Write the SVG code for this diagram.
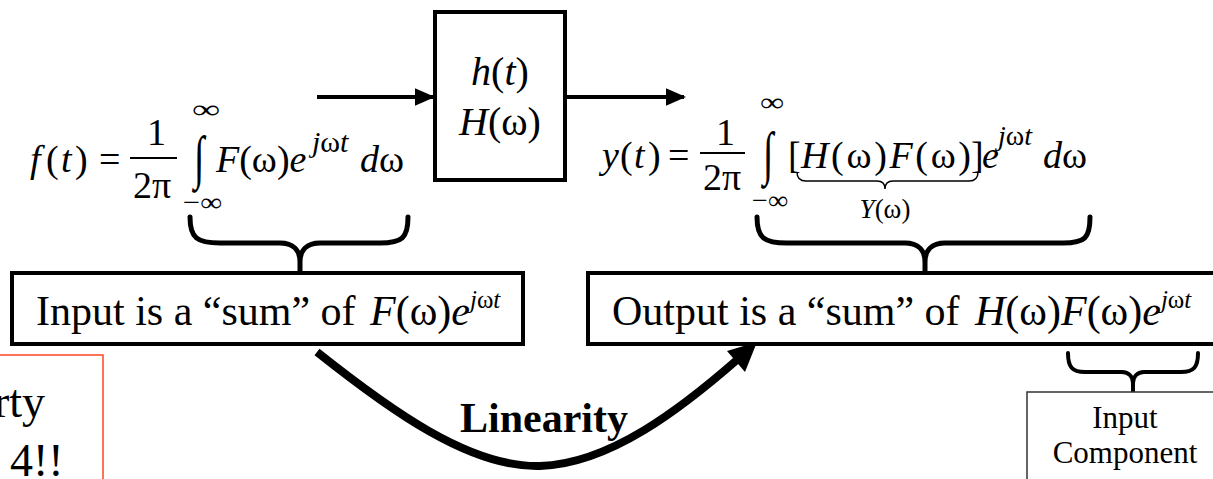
<svg xmlns="http://www.w3.org/2000/svg" width="1213" height="479" viewBox="0 0 1213 479" font-family="'Liberation Serif', 'Times New Roman', serif">
<style>
.t{font-family:"Liberation Serif","Times New Roman",serif;fill:#000}
.it{font-style:italic}
.up{font-style:normal}
.m38{font-size:38px}
.m42{font-size:42px}
.box{fill:#fff;stroke:#000;stroke-width:4}
.brace{fill:none;stroke:#000;stroke-width:5;stroke-linecap:round;stroke-linejoin:round}
.conn{fill:none;stroke:#000;stroke-width:4}
</style>
<defs>
<marker id="ah" viewBox="0 0 10 10" refX="9" refY="5" markerWidth="5" markerHeight="4.4" orient="auto" markerUnits="strokeWidth" preserveAspectRatio="none">
<path d="M0,0 L10,5 L0,10 z" fill="#000"/>
</marker>
</defs>
<rect width="1213" height="479" fill="#fff"/>

<g id="connectors">
<line class="conn" x1="317" y1="97" x2="433" y2="97" marker-end="url(#ah)"/>
<line class="conn" x1="565" y1="97" x2="684" y2="97" marker-end="url(#ah)"/>
<path d="M317,352 C390,410 470,468 540,466 C610,464 682,408 738,359" fill="none" stroke="#000" stroke-width="8"/>
<polygon points="757,342 727,351 745,372" fill="#000"/>
</g>

<g id="system">
<rect class="box" x="435" y="12" width="130" height="168"/>
<text class="t" x="500" y="85" text-anchor="middle" font-size="40"><tspan class="it">h</tspan>(<tspan class="it">t</tspan>)</text>
<text class="t" x="500" y="135" text-anchor="middle" font-size="40"><tspan class="it">H</tspan>(ω)</text>
</g>

<g id="input-formula">
<text class="t m38" y="172"><tspan class="it" x="30">f</tspan><tspan x="46">(</tspan><tspan class="it" x="61">t</tspan><tspan x="75">)</tspan><tspan x="99">=</tspan></text>
<text class="t m38" x="147" y="145">1</text>
<line x1="130" y1="158" x2="177" y2="158" stroke="#000" stroke-width="2"/>
<text class="t m38" x="133" y="198">2π</text>
<text class="t" font-size="38" transform="translate(194,177) scale(1,1.55)">∫</text>
<text class="t" x="192" y="118" font-size="26" textLength="28" lengthAdjust="spacingAndGlyphs">∞</text>
<text class="t" x="183" y="211" font-size="26" textLength="39" lengthAdjust="spacingAndGlyphs">−∞</text>
<text class="t m38" x="216" y="172"><tspan class="it">F</tspan>(ω)<tspan class="it">e</tspan></text>
<text class="t it" x="312" y="152" font-size="30">j<tspan class="up">ω</tspan>t</text>
<text class="t m38" x="360" y="172"><tspan class="it">d</tspan>ω</text>
</g>

<g id="output-formula">
<text class="t m38" y="168"><tspan class="it" x="602">y</tspan><tspan x="620">(</tspan><tspan class="it" x="634">t</tspan><tspan x="648">)</tspan><tspan x="668">=</tspan></text>
<text class="t m38" x="716" y="145">1</text>
<line x1="700" y1="153" x2="745" y2="153" stroke="#000" stroke-width="2"/>
<text class="t m38" x="703" y="190">2π</text>
<text class="t" font-size="38" transform="translate(763,173) scale(1,1.55)">∫</text>
<text class="t" x="760" y="111" font-size="26" textLength="24" lengthAdjust="spacingAndGlyphs">∞</text>
<text class="t" x="752" y="209" font-size="26" textLength="36" lengthAdjust="spacingAndGlyphs">−∞</text>
<text class="t m38" x="788" y="168">[</text>
<text class="t m38" x="801" y="168" textLength="170" lengthAdjust="spacing"><tspan class="it">H</tspan>(ω)<tspan class="it">F</tspan>(ω)</text>
<text class="t m38" x="971" y="168">]</text>
<text class="t m38 it" x="982" y="168">e</text>
<text class="t it" x="998" y="145" font-size="28">j<tspan class="up">ω</tspan>t</text>
<text class="t m38" x="1043" y="168"><tspan class="it">d</tspan>ω</text>
<path d="M797,172 Q797,181 806,181 L877,181 Q885,181 885,189 Q885,181 893,181 L969,181 Q978,181 978,172" fill="none" stroke="#000" stroke-width="1.5"/>
<text class="t" x="885" y="218" text-anchor="middle" font-size="27"><tspan class="it">Y</tspan>(ω)</text>
</g>

<g id="brace-input">
<path class="brace" d="M190,217 C190,238 197,243 220,243 L280,243 C293,243 300,250 300,262 M300,262 C300,250 307,243 320,243 L380,243 C402,243 408,238 408,217 M300,262 L300,272"/>
</g>
<g id="brace-output">
<path class="brace" d="M757,217 C757,238 764,243 787,243 L905,243 C918,243 925,250 925,262 M925,262 C925,250 932,243 945,243 L1063,243 C1085,243 1090,238 1090,217 M925,262 L925,272"/>
</g>

<g id="input-box">
<rect class="box" x="12" y="273" width="511" height="71"/>
<text class="t m42" x="36" y="325">Input is a “sum” of <tspan class="it" x="370">F</tspan>(ω)<tspan class="it">e</tspan><tspan class="it" font-size="25" dy="-17">j<tspan class="up">ω</tspan>t</tspan></text>
</g>

<g id="output-box">
<rect class="box" x="588" y="273" width="640" height="71"/>
<text class="t m42" x="612" y="325">Output is a “sum” of <tspan class="it" x="975">H</tspan>(ω)<tspan class="it">F</tspan>(ω)<tspan class="it">e</tspan><tspan class="it" font-size="25" dy="-17">j<tspan class="up">ω</tspan>t</tspan></text>
</g>

<g id="brace-component">
<path d="M1068,353 C1068,367 1072,372 1085,372 L1122,372 C1129,372 1133,377 1133,383 M1133,383 C1133,377 1137,372 1144,372 L1181,372 C1194,372 1198,367 1198,353 M1133,383 L1133,392" fill="none" stroke="#000" stroke-width="4" stroke-linecap="round"/>
</g>

<g id="input-component">
<rect x="1027" y="392" width="200" height="100" fill="#fff" stroke="#333" stroke-width="1.5"/>
<text class="t" x="1125" y="428" text-anchor="middle" font-size="31">Input</text>
<text class="t" x="1125" y="463" text-anchor="middle" font-size="31">Component</text>
</g>

<g id="linearity-label">
<text class="t" x="460" y="432" font-size="42" font-weight="bold">Linearity</text>
</g>

<g id="property-note">
<rect x="-5" y="355" width="108" height="150" fill="#fff" stroke="#ff4422" stroke-width="1.5"/>
<text class="t" x="-6" y="417" font-size="46">rty</text>
<text class="t" x="10" y="476" font-size="46">4!!</text>
</g>
</svg>
